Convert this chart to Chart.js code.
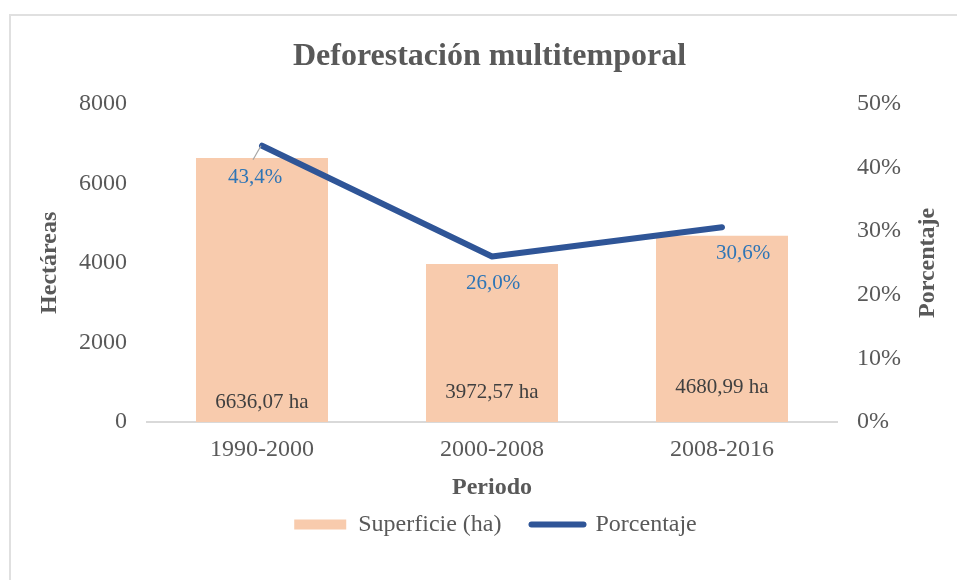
<!DOCTYPE html>
<html lang="es">
<head>
<meta charset="utf-8">
<title>Deforestación multitemporal</title>
<script src="https://cdn.jsdelivr.net/npm/chart.js@4.4.1/dist/chart.umd.min.js"></script>
<style>
  html, body { margin: 0; padding: 0; background: #fff; }
  #wrap { position: relative; width: 957px; height: 580px; }
  #frame {
    position: absolute; left: 9px; top: 14px; right: 0; bottom: 0;
    border-top: 2px solid #e0e0e0; border-left: 2px solid #e0e0e0;
    pointer-events: none;
  }
</style>
</head>
<body>
<div id="wrap">
  <canvas id="chart" width="957" height="580"></canvas>
  <div id="frame"></div>
</div>
<script>
/********************
 * data
 ********************/
const periodos = ["1990-2000", "2000-2008", "2008-2016"];
const superficieHa = [6636.07, 3972.57, 4680.99];
const porcentaje = [43.4, 26.0, 30.6];
const hectareasTicks = [0, 2000, 4000, 6000, 8000];
const porcentajeTicks = [0, 10, 20, 30, 40, 50];

const SERIF = "'Liberation Serif', 'Times New Roman', serif";
const GREY = "#595959";

function fmtComma(n, d){
  return Number(n).toFixed(d).replace(".", ",");
}

/********************
 * labels on bars / line (Excel-like positions)
 ********************/
const labelPlugin = {
  id: "valueLabels",
  afterDatasetsDraw(chart){
    const ctx = chart.ctx;
    ctx.save();
    ctx.textAlign = "center";
    ctx.textBaseline = "middle";

    // bar labels near the base
    const barMeta = chart.getDatasetMeta(0);
    const barLift = [20, 30, 35];
    ctx.font = "21px " + SERIF;
    ctx.fillStyle = "#404040";
    barMeta.data.forEach((bar, i) => {
      ctx.fillText(fmtComma(superficieHa[i], 2) + " ha", bar.x, bar.base - barLift[i]);
    });

    // percentage labels under the line points
    const lineMeta = chart.getDatasetMeta(1);
    const shift = [[-7, 32], [1, 27], [21, 26]];
    lineMeta.data.forEach((pt, i) => {
      const lx = pt.x + shift[i][0];
      const ly = pt.y + shift[i][1];
      if(i === 0){
        // small leader line
        ctx.strokeStyle = "#a6a6a6";
        ctx.lineWidth = 1.2;
        ctx.beginPath();
        ctx.moveTo(lx - 2, ly - 18);
        ctx.lineTo(pt.x - 1, pt.y);
        ctx.stroke();
      }
      ctx.fillStyle = "#2E75B6";
      ctx.fillText(fmtComma(porcentaje[i], 1) + "%", lx, ly);
    });
    ctx.restore();
  }
};

// right axis title reads bottom-to-top like the left one
const rightTitlePlugin = {
  id: "rightTitle",
  afterLayout(chart){
    // title and legend sit centred over the plot area, not the canvas
    chart.legend.left += 17;
    chart.legend.right += 17;
    chart.titleBlock.left += 11;
    chart.titleBlock.right += 11;
  },
  afterDraw(chart){
    const s = chart.scales.y1;
    const ctx = chart.ctx;
    ctx.save();
    ctx.translate(s.right - 29, (s.top + s.bottom) / 2);
    ctx.rotate(-Math.PI / 2);
    ctx.textAlign = "center";
    ctx.textBaseline = "middle";
    ctx.font = "bold 24px " + SERIF;
    ctx.fillStyle = GREY;
    ctx.fillText("Porcentaje", 0, 0);
    ctx.restore();
  }
};

const ctx = document.getElementById("chart").getContext("2d");
new Chart(ctx, {
  data: {
    labels: periodos,
    datasets: [
      {
        type: "bar",
        label: "Superficie (ha)",
        data: superficieHa,
        backgroundColor: "#F8CBAD",
        borderWidth: 0,
        categoryPercentage: 1,
        barPercentage: 0.574,
        yAxisID: "y",
        order: 1
      },
      {
        type: "line",
        label: "Porcentaje",
        data: porcentaje,
        borderColor: "#2F5597",
        backgroundColor: "#2F5597",
        borderWidth: 6,
        borderCapStyle: "round",
        borderJoinStyle: "round",
        pointRadius: 0,
        tension: 0,
        yAxisID: "y1",
        order: 0
      }
    ]
  },
  options: {
    responsive: false,
    animation: false,
    events: [],
    layout: { padding: { left: 0, right: 0, top: 0, bottom: 33.5 } },
    plugins: {
      title: {
        display: true,
        text: "Deforestación multitemporal",
        color: GREY,
        font: { family: SERIF, size: 32, weight: "bold" },
        padding: { top: 38, bottom: 27.3 }
      },
      legend: {
        position: "bottom",
        labels: {
          usePointStyle: true,
          pointStyleWidth: 52,
          boxHeight: 10,
          padding: 30,
          color: GREY,
          font: { family: SERIF, size: 24 },
          sort: (a, b) => a.datasetIndex - b.datasetIndex,
          generateLabels(chart){
            const items = Chart.defaults.plugins.legend.labels.generateLabels(chart);
            items.forEach(it => {
              const ds = chart.data.datasets[it.datasetIndex];
              if(ds.type === "line"){
                it.pointStyle = "line";
                it.lineWidth = 6;
                it.strokeStyle = ds.borderColor;
                it.lineCap = "round";
              } else {
                it.pointStyle = "rect";
                it.lineWidth = 0;
                it.fillStyle = ds.backgroundColor;
              }
            });
            return items;
          }
        }
      },
      tooltip: { enabled: false }
    },
    scales: {
      x: {
        grid: { display: false, drawTicks: false },
        border: { display: true, color: "#D9D9D9", width: 2 },
        ticks: { color: GREY, font: { family: SERIF, size: 24 }, padding: 13 },
        title: {
          display: true,
          text: "Periodo",
          color: GREY,
          font: { family: SERIF, size: 24, weight: "bold" },
          padding: { top: 0, bottom: -20 }
        },
        afterFit(scale){ scale.height = 60.5; }
      },
      y: {
        position: "left",
        min: 0,
        max: 8000,
        afterBuildTicks(scale){ scale.ticks = hectareasTicks.map(v => ({ value: v })); },
        grid: { display: false, drawTicks: false },
        border: { display: false },
        ticks: {
          color: GREY,
          font: { family: SERIF, size: 24 },
          padding: 20,
          callback: v => String(v)
        },
        title: {
          display: true,
          text: "Hectáreas",
          color: GREY,
          font: { family: SERIF, size: 24, weight: "bold" },
          padding: { top: 35.5, bottom: 0 }
        },
        afterFit(scale){ scale.width = 147; }
      },
      y1: {
        position: "right",
        min: 0,
        max: 50,
        afterBuildTicks(scale){ scale.ticks = porcentajeTicks.map(v => ({ value: v })); },
        grid: { display: false, drawTicks: false },
        border: { display: false },
        ticks: {
          color: GREY,
          font: { family: SERIF, size: 24 },
          padding: 20,
          callback: v => v + "%"
        },
        afterFit(scale){ scale.width = 120; }
      }
    }
  },
  plugins: [labelPlugin, rightTitlePlugin]
});
</script>
</body>
</html>
